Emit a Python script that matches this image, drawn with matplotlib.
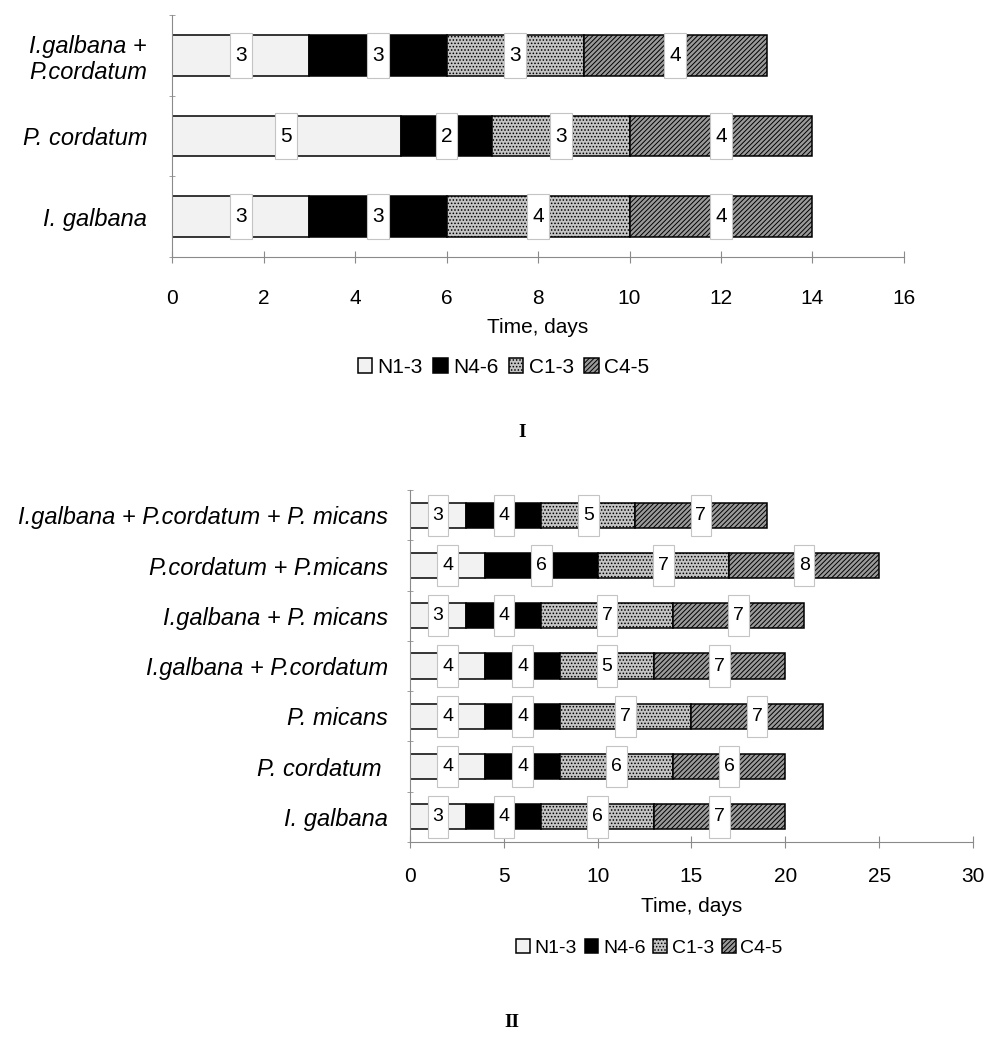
import numpy as np
import matplotlib.pyplot as plt

plt.rcParams['font.family'] = ['Liberation Sans', 'DejaVu Sans']
plt.rcParams['hatch.linewidth'] = 0.7
plt.rcParams['hatch.color'] = '#222222'

# ---------------------------------------------------------------
# stage durations (days), rows listed bottom -> top
# ---------------------------------------------------------------
stages = ['N1-3', 'N4-6', 'C1-3', 'C4-5']

diets_1 = ['I. galbana', 'P. cordatum', 'I.galbana +\nP.cordatum']
n13_1 = [3, 5, 3]
n46_1 = [3, 2, 3]
c13_1 = [4, 3, 3]
c45_1 = [4, 4, 4]

diets_2 = ['I. galbana', 'P. cordatum ', 'P. micans', 'I.galbana + P.cordatum',
           'I.galbana + P. micans', 'P.cordatum + P.micans',
           'I.galbana + P.cordatum + P. micans']
n13_2 = [3, 4, 4, 4, 3, 4, 3]
n46_2 = [4, 4, 4, 4, 4, 6, 4]
c13_2 = [6, 6, 7, 5, 7, 7, 5]
c45_2 = [7, 6, 7, 7, 7, 8, 7]

# fill style per stage
styles = [
    dict(color='#f2f2f2', hatch=None),
    dict(color='#000000', hatch=None),
    dict(color='#c4c4c4', hatch='.....'),
    dict(color='#9a9a9a', hatch='///////'),
]


def stacked(ax, diets, series, box_w, box_h, fs, lab_fs, lab_pad):
    y = np.arange(len(diets))
    left = np.zeros(len(diets))
    handles = []
    for vals, st, name in zip(series, styles, stages):
        vals = np.array(vals, dtype=float)
        b = ax.barh(y, vals, left=left, height=0.5, color=st['color'],
                    hatch=st['hatch'], edgecolor='black', linewidth=1.1,
                    label=name, zorder=2)
        handles.append(b)
        mids = left + vals / 2
        # white value boxes sitting on the middle of each segment
        ax.barh(y, box_w, left=mids - box_w / 2, height=box_h, color='white',
                edgecolor='#c4c4c4', linewidth=0.8, zorder=3)
        for yi, m, v in zip(y, mids, vals):
            ax.text(m, yi, f'{int(v)}', ha='center', va='center',
                    fontsize=fs, zorder=4)
        left += vals
    ax.set_yticks(y)
    ax.set_yticklabels(diets, fontstyle='italic', fontsize=lab_fs,
                       multialignment='right')
    ax.set_yticks(np.arange(len(diets) + 1) - 0.5, minor=True)
    ax.set_ylim(-0.5, len(diets) - 0.5)
    ax.tick_params(axis='y', which='major', length=0, pad=lab_pad)
    ax.tick_params(axis='y', which='minor', length=5, direction='inout',
                   color='#909090')
    for s in ['top', 'right']:
        ax.spines[s].set_visible(False)
    for s in ['left', 'bottom']:
        ax.spines[s].set_color('#8a8a8a')
    return handles


fig = plt.figure(figsize=(9.87, 10.37), dpi=100)

# panel I
ax1 = fig.add_axes([0.1743, 0.7522, 0.7416, 0.2333])
h1 = stacked(ax1, diets_1, [n13_1, n46_1, c13_1, c45_1], 0.48, 0.56, 15, 17, 18)
ax1.set_xlim(0, 16)
ax1.set_xticks(np.arange(0, 17, 2))
ax1.tick_params(axis='x', length=8, direction='inout', color='#8a8a8a',
                labelsize=15, pad=19)
ax1.set_xlabel('Time, days', fontsize=15, labelpad=7)
fig.legend(handles=h1, labels=stages, loc='center', ncol=4,
           bbox_to_anchor=(0.51, 0.646), frameon=False, fontsize=15,
           handlelength=0.7, handleheight=0.7, handletextpad=0.25,
           columnspacing=0.5)
fig.text(0.529, 0.583, 'I', fontsize=14, fontweight='bold',
         family='Liberation Serif', ha='center', va='center')

# panel II
ax2 = fig.add_axes([0.4154, 0.188, 0.5704, 0.3394])
h2 = stacked(ax2, diets_2, [n13_2, n46_2, c13_2, c45_2], 1.1, 0.82, 14, 17, 16)
ax2.set_xlim(0, 30)
ax2.set_xticks(np.arange(0, 31, 5))
ax2.tick_params(axis='x', length=8, direction='inout', color='#8a8a8a',
                labelsize=15, pad=14)
ax2.set_xlabel('Time, days', fontsize=15, labelpad=8)
fig.legend(handles=h2, labels=stages, loc='center', ncol=4,
           bbox_to_anchor=(0.658, 0.086), frameon=False, fontsize=14,
           handlelength=0.7, handleheight=0.7, handletextpad=0.25,
           columnspacing=0.4)
fig.text(0.519, 0.014, 'II', fontsize=14, fontweight='bold',
         family='Liberation Serif', ha='center', va='center')

plt.savefig('out.png', dpi=100, facecolor='white')
